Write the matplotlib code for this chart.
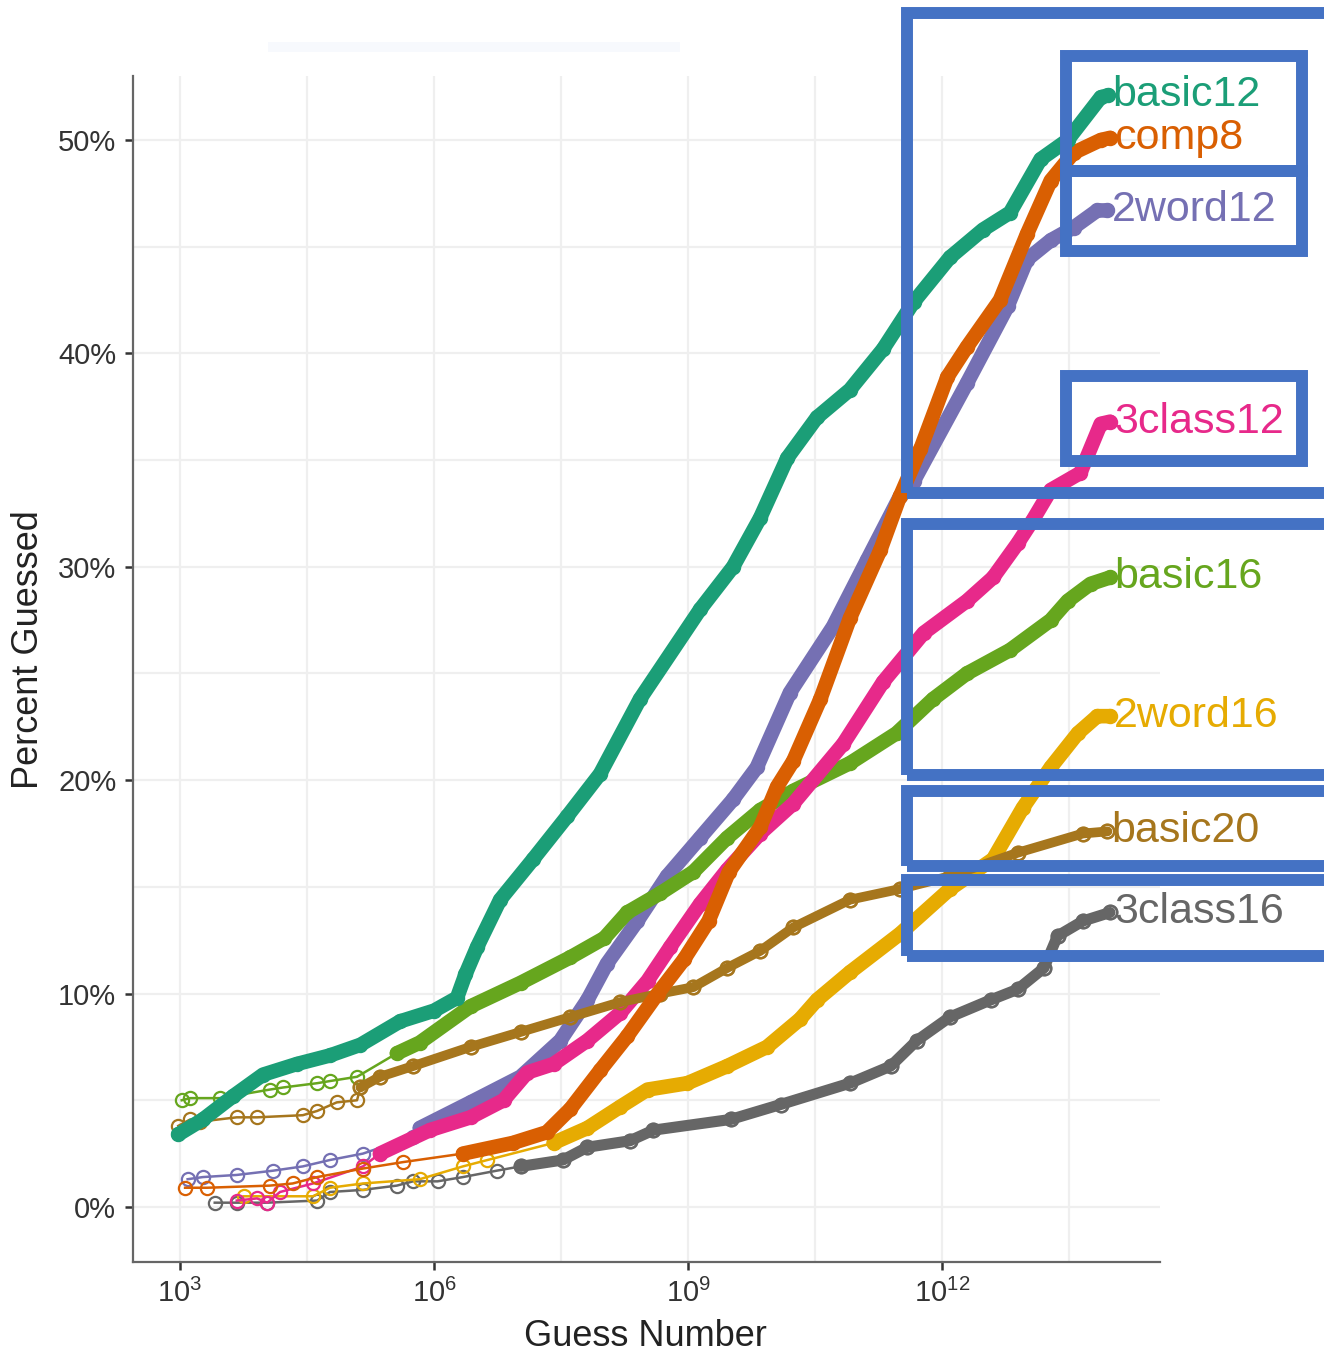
import matplotlib
matplotlib.use("Agg")
import matplotlib.pyplot as plt
from matplotlib.patches import Rectangle
import numpy as np

plt.rcParams['font.family'] = ['Liberation Sans', 'DejaVu Sans']

# guess number given as log10 exponent, percent guessed
basic12_x = [2.98, 3.27, 3.63, 3.98, 4.38, 4.77, 5.13, 5.60, 6.00, 6.27, 6.37, 6.51, 6.78, 7.17, 7.57,
             7.96, 8.43, 9.14, 9.53, 9.85, 10.17, 10.52, 10.91, 11.30, 11.66, 12.09, 12.48, 12.80,
             13.16, 13.48, 13.87, 13.96]
basic12_y = [3.4, 4.1, 5.2, 6.2, 6.7, 7.1, 7.6, 8.7, 9.2, 9.8, 10.9, 12.2, 14.4, 16.3, 18.3,
             20.3, 23.8, 28.0, 30.0, 32.3, 35.1, 37.0, 38.3, 40.2, 42.4, 44.5, 45.8, 46.6,
             49.1, 50.0, 52.0, 52.1]

comp8_x = [3.06, 3.32, 4.06, 4.33, 4.62, 5.16, 5.63, 6.34, 6.93, 7.33, 7.61, 7.96, 8.28, 8.64, 8.95,
           9.24, 9.48, 9.85, 10.05, 10.24, 10.56, 10.91, 11.27, 11.50, 11.74, 12.06, 12.29, 12.68,
           13.00, 13.28, 13.55, 13.87, 13.98]
comp8_y = [0.9, 0.9, 1.0, 1.1, 1.4, 1.8, 2.1, 2.5, 3.0, 3.5, 4.6, 6.4, 8.0, 10.0, 11.6,
           13.4, 15.7, 17.8, 19.7, 20.9, 23.8, 27.6, 30.8, 33.3, 35.5, 38.9, 40.3, 42.5,
           45.6, 48.1, 49.4, 50.0, 50.1]

word12_x = [3.09, 3.27, 3.67, 4.10, 4.45, 4.77, 5.16, 5.75, 5.83, 6.43, 7.02, 7.49, 7.81, 8.04, 8.40,
            8.75, 9.14, 9.53, 9.81, 10.20, 10.71, 11.11, 11.50, 11.66, 12.29, 12.77, 13.00, 13.28,
            13.55, 13.83, 13.95]
word12_y = [1.3, 1.4, 1.5, 1.7, 1.9, 2.2, 2.5, 3.3, 3.7, 4.9, 6.1, 7.8, 9.7, 11.4, 13.4,
            15.5, 17.3, 19.1, 20.6, 24.1, 27.2, 30.3, 33.3, 34.0, 38.6, 42.2, 44.4, 45.3,
            45.9, 46.7, 46.7]

class12_x = [3.67, 3.91, 4.03, 4.18, 4.57, 5.16, 5.36, 5.95, 6.43, 6.82, 7.10, 7.41, 7.81, 8.20, 8.52,
             8.79, 9.14, 9.46, 9.85, 10.24, 10.83, 11.30, 11.78, 12.29, 12.60, 12.89, 13.07, 13.28,
             13.63, 13.87, 13.98]
class12_y = [0.3, 0.4, 0.2, 0.7, 1.1, 1.9, 2.5, 3.6, 4.2, 5.0, 6.3, 6.7, 7.8, 9.1, 10.6,
             12.2, 14.2, 15.8, 17.5, 18.9, 21.7, 24.6, 26.9, 28.4, 29.5, 31.1, 32.2, 33.6,
             34.4, 36.7, 36.8]

basic16_x = [3.02, 3.12, 3.47, 4.06, 4.22, 4.62, 4.77, 5.09, 5.56, 5.83, 6.43, 7.02, 7.61, 8.01, 8.28,
             8.67, 9.06, 9.46, 9.85, 10.24, 10.91, 11.46, 11.89, 12.29, 12.80, 13.28, 13.48, 13.75, 13.98]
basic16_y = [5.0, 5.1, 5.1, 5.5, 5.6, 5.8, 5.9, 6.1, 7.2, 7.7, 9.4, 10.5, 11.7, 12.6, 13.8,
             14.7, 15.7, 17.3, 18.6, 19.5, 20.8, 22.2, 23.8, 25.0, 26.1, 27.5, 28.4, 29.2, 29.5]

word16_x = [3.75, 4.57, 4.77, 5.16, 5.83, 6.34, 6.63, 7.41, 7.81, 8.20, 8.52, 8.99, 9.46, 9.93, 10.32,
            10.52, 10.91, 11.50, 12.09, 12.60, 12.95, 13.28, 13.60, 13.83, 13.98]
word16_y = [0.5, 0.5, 0.9, 1.1, 1.3, 1.9, 2.2, 3.0, 3.7, 4.7, 5.5, 5.8, 6.6, 7.5, 8.8,
            9.7, 11.0, 12.8, 14.9, 16.3, 18.7, 20.6, 22.2, 23.0, 23.0]

basic20_x = [2.98, 3.12, 3.24, 3.67, 3.91, 4.45, 4.62, 4.85, 5.09, 5.13, 5.36, 5.75, 6.43, 7.02, 7.61,
             8.20, 8.67, 9.06, 9.46, 9.85, 10.24, 10.91, 11.50, 12.09, 12.89, 13.66, 13.95]
basic20_y = [3.8, 4.1, 4.0, 4.2, 4.2, 4.3, 4.5, 4.9, 5.0, 5.6, 6.1, 6.6, 7.5, 8.2, 8.9,
             9.6, 10.0, 10.3, 11.2, 12.0, 13.1, 14.4, 14.9, 15.5, 16.6, 17.5, 17.6]

class16_x = [3.41, 3.67, 4.03, 4.62, 4.77, 5.16, 5.56, 5.75, 6.04, 6.34, 6.74, 7.02, 7.52, 7.81, 8.31,
             8.59, 9.50, 10.09, 10.91, 11.39, 11.70, 12.09, 12.57, 12.89, 13.20, 13.36, 13.66, 13.98]
class16_y = [0.2, 0.2, 0.2, 0.3, 0.7, 0.8, 1.0, 1.2, 1.2, 1.4, 1.7, 1.9, 2.2, 2.8, 3.1,
             3.6, 4.1, 4.8, 5.8, 6.6, 7.8, 8.9, 9.7, 10.2, 11.2, 12.7, 13.4, 13.8]

names = ['basic12', 'comp8', '2word12', '3class12', 'basic16', '2word16', 'basic20', '3class16']
colors = ['#1b9e77', '#d95f02', '#7570b3', '#e7298a', '#66a61e', '#e6ab02', '#a6761d', '#666666']
xs = [basic12_x, comp8_x, word12_x, class12_x, basic16_x, word16_x, basic20_x, class16_x]
ys = [basic12_y, comp8_y, word12_y, class12_y, basic16_y, word16_y, basic20_y, class16_y]

# where the dots pile up into a solid band, how thick it gets, drawing order
dense_from = [2.9, 6.3, 5.8, 5.3, 5.5, 7.4, 5.1, 7.0]
band_w = [10.5, 10.5, 10.5, 10.5, 10.5, 10.5, 7, 8]
zorders = [10, 9, 4, 7, 5, 3, 8, 2]

fig = plt.figure(figsize=(13.24, 13.54), dpi=100)
ax = fig.add_axes([133 / 1324, 1 - 1262 / 1354, (1160 - 133) / 1324, (1262 - 76) / 1354])

for name, c, lx, y, d0, bw, z in zip(names, colors, xs, ys, dense_from, band_w, zorders):
    lx = np.array(lx)
    y = np.array(y)
    g = 10 ** lx
    ax.plot(g, y, color=c, lw=1.8, marker='o', ms=9.5, mfc='none', mew=1.6, zorder=z)
    m = lx >= d0
    ax.plot(g[m], y[m], color=c, lw=bw, solid_capstyle='round', solid_joinstyle='round', zorder=z)
    if bw < 9:
        ax.plot(g[m], y[m], color=c, lw=0, marker='o', ms=10, mfc='none', mew=1.6, zorder=z)
    ax.text(g[-1] * 1.12, y[-1], name, color=c, fontsize=31, ha='left', va='center', zorder=z)

ax.set_xscale('log')
ax.set_xlim(10 ** 2.445, 10 ** 14.57)
ax.set_ylim(-2.58, 53.0)

ax.set_xticks([1e3, 1e6, 1e9, 1e12])
ax.set_xticklabels([r'$\mathregular{10^{3}}$', r'$\mathregular{10^{6}}$',
                    r'$\mathregular{10^{9}}$', r'$\mathregular{10^{12}}$'])
ax.set_xticks([10 ** 4.5, 10 ** 7.5, 10 ** 10.5, 10 ** 13.5], minor=True)
ax.set_yticks([0, 10, 20, 30, 40, 50])
ax.set_yticklabels(['0%', '10%', '20%', '30%', '40%', '50%'])
ax.set_yticks([5, 15, 25, 35, 45], minor=True)

ax.grid(True, which='both', color='#efefef', lw=1.6, zorder=0)
ax.set_axisbelow(True)
ax.tick_params(which='major', length=6, width=1.8, color='#333333', labelsize=21,
               labelcolor='#333333', pad=6)
ax.tick_params(which='minor', length=0)
for s in ['top', 'right']:
    ax.spines[s].set_visible(False)
for s in ['left', 'bottom']:
    ax.spines[s].set_color('#666666')
    ax.spines[s].set_linewidth(1.6)

fig.text(645 / 1324, 1 - 1337 / 1354, 'Guess Number', fontsize=26, ha='center', va='center',
         color='#222222')
fig.text(29 / 1324, 1 - 650 / 1354, 'Percent Guessed', fontsize=26, ha='center', va='center',
         rotation=90, color='#222222')


def px_rect(x0, y0, x1, y1, **kw):
    r = Rectangle((x0 / 1324, 1 - y1 / 1354), (x1 - x0) / 1324, (y1 - y0) / 1354,
                  transform=fig.transFigure, fill=False, **kw)
    fig.add_artist(r)


# faint strip left over from a cropped title
fig.add_artist(Rectangle((268 / 1324, 1 - 52 / 1354), 412 / 1324, 10 / 1354,
                         transform=fig.transFigure, color='#f7f9fd', lw=0))

blue = '#4472c4'
for box in [(907, 12.5, 1345, 493), (1066, 56, 1302, 171), (1066, 171, 1302, 251),
            (1066, 376, 1302, 461), (907, 524, 1345, 775), (907, 791, 1345, 866),
            (907, 880, 1345, 956)]:
    px_rect(*box, edgecolor=blue, lw=8.6, joinstyle='miter', zorder=20)

fig.savefig('out.png', dpi=100)
